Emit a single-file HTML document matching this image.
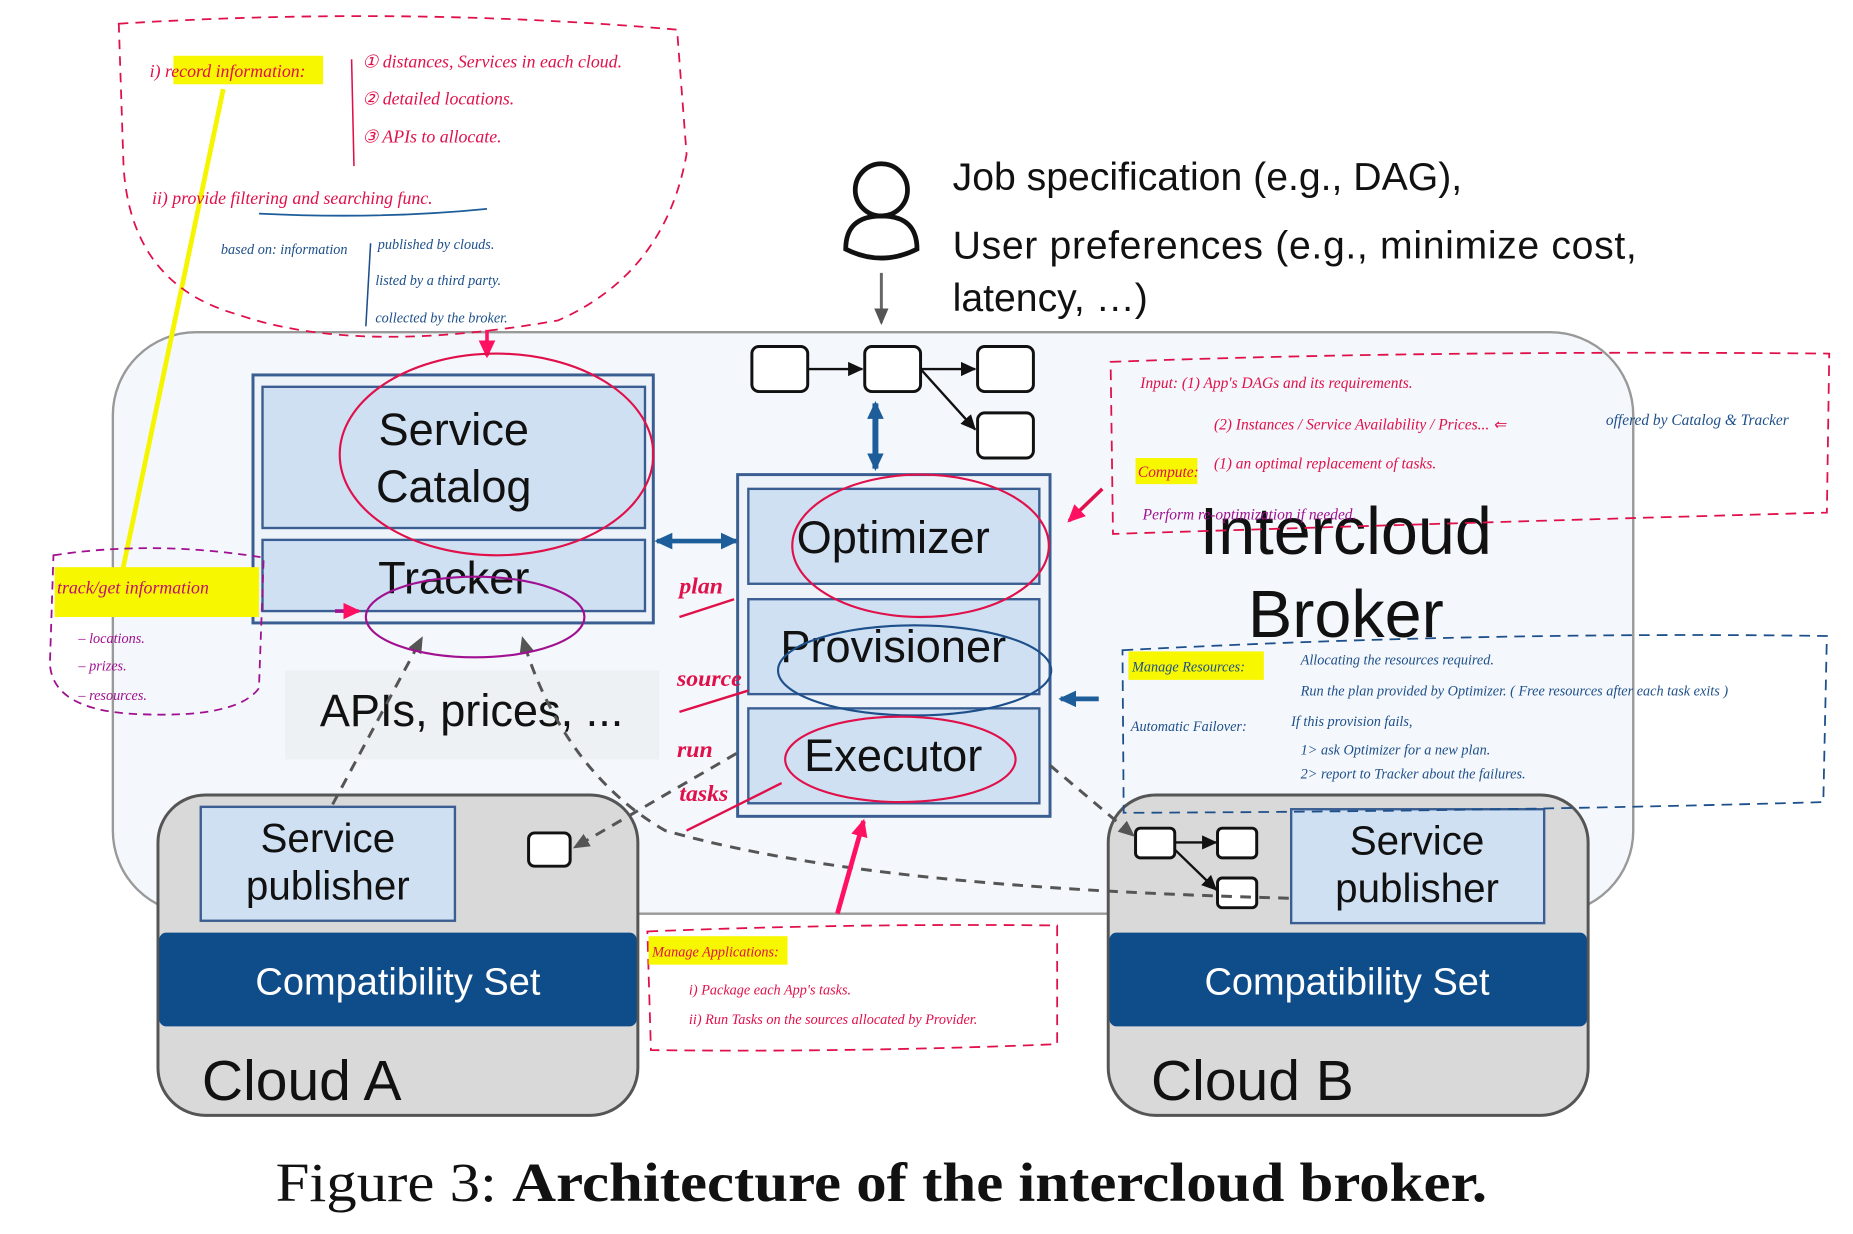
<!DOCTYPE html>
<html><head><meta charset="utf-8"><style>
html,body{margin:0;padding:0;background:#fff;}
svg{display:block}
.h{font-family:"Liberation Sans",sans-serif;}
.hw{font-family:"Liberation Serif",serif;font-style:italic;}
</style></head><body>
<svg width="1853" height="1234" viewBox="0 0 1560 1040" preserveAspectRatio="none" xmlns="http://www.w3.org/2000/svg">
<defs>
<marker id="ag" markerUnits="userSpaceOnUse" markerWidth="16" markerHeight="16" refX="12" refY="8" orient="auto"><path d="M0,2 L14,8 L0,14z" fill="#555"/></marker>
<marker id="ak" markerUnits="userSpaceOnUse" markerWidth="14" markerHeight="14" refX="12" refY="7" orient="auto"><path d="M0,1 L13,7 L0,13z" fill="#111"/></marker>
<marker id="ab" markerUnits="userSpaceOnUse" markerWidth="16" markerHeight="16" refX="13" refY="8" orient="auto"><path d="M0,1 L15,8 L0,15z" fill="#1d5d99"/></marker>
<marker id="abs" markerUnits="userSpaceOnUse" markerWidth="16" markerHeight="16" refX="2" refY="8" orient="auto"><path d="M15,1 L0,8 L15,15z" fill="#1d5d99"/></marker>
<marker id="ap" markerUnits="userSpaceOnUse" markerWidth="16" markerHeight="16" refX="13" refY="8" orient="auto"><path d="M0,1 L15,8 L0,15z" fill="#ff1060"/></marker>
</defs>
<rect x="95" y="280" width="1280" height="490" rx="70" fill="#f4f7fb" stroke="#999" stroke-width="2"/>
<circle cx="742" cy="160" r="22" fill="none" stroke="#111" stroke-width="4"/>
<path d="M712,210 Q712,182 742,182 Q772,182 772,210 Q742,225 712,210z" fill="none" stroke="#111" stroke-width="4"/>
<line x1="742" y1="230" x2="742" y2="272" stroke="#666" stroke-width="2.5" marker-end="url(#ag)"/>
<g class="h" font-size="33" fill="#111">
<text x="802" y="160">Job specification (e.g., DAG),</text>
<text x="802" y="218" textLength="576">User preferences (e.g., minimize cost,</text>
<text x="802" y="262">latency, …)</text>
</g>
<g fill="#fff" stroke="#111" stroke-width="2.5">
<rect x="633" y="292" width="47" height="38" rx="6"/><rect x="728" y="292" width="47" height="38" rx="6"/>
<rect x="823" y="292" width="47" height="38" rx="6"/><rect x="823" y="348" width="47" height="38" rx="6"/>
</g>
<g stroke="#111" stroke-width="2"><line x1="680" y1="311" x2="726" y2="311" marker-end="url(#ak)"/><line x1="775" y1="311" x2="821" y2="311" marker-end="url(#ak)"/><line x1="775" y1="311" x2="821" y2="362" marker-end="url(#ak)"/></g>
<line x1="737" y1="340" x2="737" y2="395" stroke="#1d5d99" stroke-width="5" marker-end="url(#ab)" marker-start="url(#abs)"/>
<rect x="213" y="316" width="337" height="209" fill="#eef3fa" stroke="#3a5e91" stroke-width="2.5"/>
<rect x="221" y="326" width="322" height="119" fill="#cfe0f3" stroke="#3a5e91" stroke-width="2"/>
<rect x="221" y="455" width="322" height="60" fill="#cfe0f3" stroke="#3a5e91" stroke-width="2"/>
<g class="h" font-size="38" fill="#111" text-anchor="middle">
<text x="382" y="375">Service</text><text x="382" y="423">Catalog</text><text x="382" y="500">Tracker</text>
</g>
<line x1="553" y1="456" x2="620" y2="456" stroke="#1d5d99" stroke-width="4" marker-end="url(#ab)" marker-start="url(#abs)"/>
<rect x="621" y="400" width="263" height="288" fill="#eef3fa" stroke="#3a5e91" stroke-width="2.5"/>
<rect x="630" y="412" width="245" height="80" fill="#cfe0f3" stroke="#3a5e91" stroke-width="2"/>
<rect x="630" y="505" width="245" height="80" fill="#cfe0f3" stroke="#3a5e91" stroke-width="2"/>
<rect x="630" y="597" width="245" height="80" fill="#cfe0f3" stroke="#3a5e91" stroke-width="2"/>
<g class="h" font-size="38" fill="#111" text-anchor="middle">
<text x="752" y="466">Optimizer</text><text x="752" y="558">Provisioner</text><text x="752" y="650">Executor</text>
</g>
<g class="h" font-size="56" fill="#111" text-anchor="middle"><text x="1133" y="467">Intercloud</text><text x="1133" y="537">Broker</text></g>
<line x1="925" y1="589" x2="893" y2="589" stroke="#1d5d99" stroke-width="4" marker-end="url(#ab)"/>
<rect x="240" y="565" width="315" height="75" fill="#eef1f4"/>
<text class="h" x="397" y="612" font-size="38" text-anchor="middle" fill="#111">APIs, prices, ...</text>
<g>
<rect x="133" y="670" width="404" height="270" rx="40" fill="#d9d9d9" stroke="#555" stroke-width="2.5"/>
<rect x="169" y="680" width="214" height="96" fill="#cfe0f3" stroke="#3a5e91" stroke-width="2"/>
<rect x="445" y="702" width="35" height="28" rx="5" fill="#fff" stroke="#111" stroke-width="2.5"/>
<rect x="134" y="786" width="402" height="79" rx="6" fill="#0f4c8a"/>
<rect x="933" y="670" width="404" height="270" rx="40" fill="#d9d9d9" stroke="#555" stroke-width="2.5"/>
<rect x="1087" y="682" width="213" height="96" fill="#cfe0f3" stroke="#3a5e91" stroke-width="2"/>
<rect x="934" y="786" width="402" height="79" rx="6" fill="#0f4c8a"/>
<g fill="#fff" stroke="#111" stroke-width="2.5"><rect x="956" y="698" width="33" height="25" rx="4"/><rect x="1025" y="698" width="33" height="25" rx="4"/><rect x="1025" y="740" width="33" height="25" rx="4"/></g>
<g stroke="#111" stroke-width="2"><line x1="989" y1="710" x2="1024" y2="710" marker-end="url(#ak)"/><line x1="989" y1="716" x2="1024" y2="750" marker-end="url(#ak)"/></g>
</g>
<g class="h" fill="#111" text-anchor="middle" font-size="34">
<text x="276" y="718">Service</text><text x="276" y="758">publisher</text>
<text x="1193" y="720">Service</text><text x="1193" y="760">publisher</text>
</g>
<g class="h" fill="#fff" text-anchor="middle" font-size="32"><text x="335" y="838">Compatibility Set</text><text x="1134" y="838">Compatibility Set</text></g>
<g class="h" fill="#111" font-size="48"><text x="170" y="927">Cloud A</text><text x="969" y="927">Cloud B</text></g>
<g stroke="#555" stroke-width="2.5" stroke-dasharray="9,7" fill="none">
<line x1="280" y1="678" x2="355" y2="538" marker-end="url(#ag)"/>
<path d="M1085,757 C900,752 700,740 560,700 C490,660 455,590 440,538" marker-end="url(#ag)"/>
<line x1="620" y1="635" x2="484" y2="714" marker-end="url(#ag)"/>
<line x1="884" y1="645" x2="954" y2="704" marker-end="url(#ag)"/>
</g>
<text x="232" y="1012" font-family="Liberation Serif,serif" font-size="46" fill="#111" textLength="1020" lengthAdjust="spacingAndGlyphs">Figure 3: <tspan font-weight="bold">Architecture of the intercloud broker.</tspan></text>
<line x1="188" y1="75" x2="95" y2="520" stroke="#f5f500" stroke-width="4"/>
<path d="M100,20 Q340,5 570,25 L578,130 Q560,230 470,270 Q300,300 200,265 Q110,240 104,140z" fill="none" stroke="#e0104a" stroke-width="1.5" stroke-dasharray="8,6"/>
<rect x="146" y="47" width="126" height="24" fill="#f7f700"/>
<g class="hw" fill="#e0104a" font-size="15">
<text x="126" y="65">i) record information:</text>
<text x="305" y="57">① distances, Services in each cloud.</text>
<text x="305" y="88">② detailed locations.</text>
<text x="305" y="120">③ APIs to allocate.</text>
<text x="128" y="172">ii) provide filtering and searching func.</text>
</g>
<path d="M296,50 L298,140" stroke="#e0104a" stroke-width="1.3"/>
<path d="M218,180 Q320,185 410,176" stroke="#1d5d99" stroke-width="1.5" fill="none"/>
<g class="hw" fill="#1d4f8a" font-size="12">
<text x="186" y="214">based on: information</text>
<text x="318" y="210">published by clouds.</text>
<text x="316" y="240">listed by a third party.</text>
<text x="316" y="272">collected by the broker.</text>
</g>
<path d="M312,205 L308,275" stroke="#1d4f8a" stroke-width="1.3"/>
<line x1="410" y1="278" x2="410" y2="300" stroke="#ff1060" stroke-width="3" marker-end="url(#ap)"/>
<ellipse cx="418" cy="383" rx="132" ry="85" fill="none" stroke="#e0104a" stroke-width="1.8"/>
<ellipse cx="400" cy="520" rx="92" ry="34" fill="none" stroke="#a01090" stroke-width="1.8"/>
<line x1="282" y1="515" x2="302" y2="515" stroke="#a01090" stroke-width="3" marker-end="url(#ap)"/>
<path d="M45,468 Q130,455 222,470 L218,580 Q200,605 120,602 Q45,600 42,560z" fill="none" stroke="#a01090" stroke-width="1.5" stroke-dasharray="7,5"/>
<rect x="46" y="478" width="172" height="42" fill="#f7f700"/>
<g class="hw" fill="#c01070" font-size="15"><text x="48" y="500">track/get information</text></g>
<g class="hw" fill="#a01090" font-size="12"><text x="66" y="542">– locations.</text><text x="66" y="565">– prizes.</text><text x="66" y="590">– resources.</text></g>
<ellipse cx="775" cy="460" rx="108" ry="60" fill="none" stroke="#e0104a" stroke-width="1.8"/>
<ellipse cx="770" cy="565" rx="115" ry="38" fill="none" stroke="#1d4f8a" stroke-width="1.8"/>
<ellipse cx="758" cy="640" rx="97" ry="36" fill="none" stroke="#e0104a" stroke-width="1.8"/>
<g class="hw" fill="#e0104a" font-size="20" font-weight="bold">
<text x="572" y="500">plan</text><text x="570" y="578">source</text><text x="570" y="638">run</text><text x="572" y="675">tasks</text>
</g>
<g stroke="#e0104a" stroke-width="2" fill="none"><path d="M572,520 L618,505"/><path d="M572,600 L630,582"/><path d="M578,700 L658,660"/></g>
<line x1="705" y1="770" x2="727" y2="692" stroke="#ff1060" stroke-width="4" marker-end="url(#ap)"/>
<line x1="928" y1="412" x2="900" y2="439" stroke="#e0104a" stroke-width="3" marker-end="url(#ap)"/>
<path d="M935,305 Q1200,295 1540,298 L1538,432 Q1250,440 937,450z" fill="none" stroke="#e0104a" stroke-width="1.5" stroke-dasharray="9,6"/>
<rect x="956" y="386" width="52" height="22" fill="#f7f700"/>
<g class="hw" fill="#e0104a" font-size="13">
<text x="960" y="327">Input:   (1) App's DAGs and its requirements.</text>
<text x="1022" y="362">(2) Instances / Service Availability / Prices... ⇐ </text>
<text x="958" y="402">Compute:</text><text x="1022" y="395">(1) an optimal replacement of tasks.</text>
</g>
<text class="hw" x="1352" y="358" font-size="13" fill="#1d4f8a">offered by Catalog &amp; Tracker</text>
<text class="hw" x="962" y="438" font-size="13" fill="#a01090">Perform re-optimization if needed.</text>
<path d="M945,548 Q1250,532 1538,536 L1535,676 Q1250,684 946,685z" fill="none" stroke="#1d4f8a" stroke-width="1.5" stroke-dasharray="9,6"/>
<rect x="950" y="549" width="114" height="24" fill="#f7f700"/>
<g class="hw" fill="#1d4f8a" font-size="12">
<text x="953" y="566">Manage Resources:</text>
<text x="1095" y="560">Allocating the resources required.</text>
<text x="1095" y="586">Run the plan provided by Optimizer. ( Free resources after each task exits )</text>
<text x="952" y="616">Automatic Failover:</text><text x="1087" y="612">If this provision fails,</text>
<text x="1095" y="636">1&gt; ask Optimizer for a new plan.</text>
<text x="1095" y="656">2&gt; report to Tracker about the failures.</text>
</g>
<path d="M545,785 Q720,778 890,780 L890,880 Q720,887 548,885z" fill="none" stroke="#e0104a" stroke-width="1.5" stroke-dasharray="9,6"/>
<rect x="546" y="789" width="117" height="24" fill="#f7f700"/>
<g class="hw" fill="#e0104a" font-size="12">
<text x="549" y="806">Manage Applications:</text>
<text x="580" y="838">i) Package each App's tasks.</text>
<text x="580" y="863">ii) Run Tasks on the sources allocated by Provider.</text>
</g>
</svg>
</body></html>
